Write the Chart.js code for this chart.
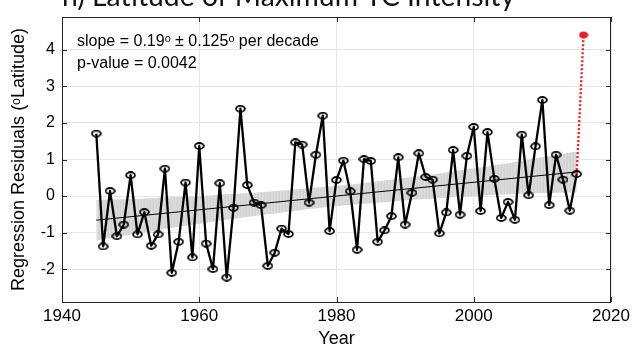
<!DOCTYPE html>
<html>
<head>
<meta charset="utf-8">
<script src="https://cdn.jsdelivr.net/npm/chart.js@4.4.1/dist/chart.umd.min.js"></script>
<style>
  html, body { margin: 0; padding: 0; background: #ffffff; }
  #wrap { position: relative; width: 640px; height: 348px; }
</style>
</head>
<body>
<div id="wrap"><canvas id="c" width="640" height="348"></canvas></div>
<script>
// ---------- data ----------
const years = [1945,1946,1947,1948,1949,1950,1951,1952,1953,1954,1955,1956,1957,1958,1959,
  1960,1961,1962,1963,1964,1965,1966,1967,1968,1969,1970,1971,1972,1973,1974,1975,1976,1977,
  1978,1979,1980,1981,1982,1983,1984,1985,1986,1987,1988,1989,1990,1991,1992,1993,1994,1995,
  1996,1997,1998,1999,2000,2001,2002,2003,2004,2005,2006,2007,2008,2009,2010,2011,2012,2013,
  2014,2015];
const residuals = [1.71,-1.38,0.14,-1.10,-0.78,0.57,-1.05,-0.44,-1.36,-1.05,0.75,-2.10,-1.25,0.37,-1.68,
  1.37,-1.30,-2.00,0.35,-2.23,-0.32,2.39,0.30,-0.18,-0.25,-1.91,-1.55,-0.89,-1.04,1.47,1.41,-0.18,1.13,
  2.20,-0.96,0.44,0.97,0.13,-1.47,1.01,0.96,-1.25,-0.94,-0.55,1.06,-0.78,0.09,1.17,0.52,0.45,-1.02,
  -0.45,1.26,-0.51,1.10,1.89,-0.41,1.75,0.47,-0.60,-0.16,-0.65,1.68,0.02,1.36,2.63,-0.25,1.13,0.45,
  -0.40,0.60];
const recentYears = [2015, 2016];
const recentValues = [0.60, 4.41];
const trendYears = [1945, 2015];
const trendValues = [-0.66, 0.66];
const bandYears = [1945,1950,1955,1960,1965,1970,1975,1980,1985,1990,1995,2000,2005,2010,2015];
const bandUpper = [-0.10,-0.08,-0.04,0.00,0.06,0.12,0.20,0.28,0.38,0.50,0.62,0.76,0.90,1.06,1.22];
const bandLower = [-1.22,-1.06,-0.90,-0.76,-0.62,-0.50,-0.38,-0.28,-0.20,-0.12,-0.06,0.00,0.04,0.08,0.10];
const xTicks = [1940, 1960, 1980, 2000, 2020];
const yTicks = [-2, -1, 0, 1, 2, 3, 4];
const titleText = 'h) Latitude of Maximum TC Intensity';
const yTitle = 'Regression Residuals (\u1D52Latitude)';
const xTitle = 'Year';
const noteLines = ['slope = 0.19\u1D52 \u00B1 0.125\u1D52 per decade', 'p-value = 0.0042'];

// ---------- helpers ----------
const pts = (xs, ys) => xs.map((x, i) => ({x: x, y: ys[i]}));
const FONT = '"Liberation Sans", Arial, Helvetica, sans-serif';

function ellipseMarker(stroke, fill) {
  const c = document.createElement('canvas');
  c.width = 11; c.height = 8;
  const g = c.getContext('2d');
  g.beginPath();
  g.ellipse(5.5, 4, 4.4, 3.0, 0, 0, Math.PI * 2);
  if (fill) { g.fillStyle = fill; g.fill(); }
  if (stroke) { g.lineWidth = 1.8; g.strokeStyle = stroke; g.stroke(); }
  return c;
}
const blackMarker = ellipseMarker('#000000', null);
const redMarker = (() => {
  const c = document.createElement('canvas');
  c.width = 10; c.height = 8;
  const g = c.getContext('2d');
  g.beginPath(); g.ellipse(5, 4, 4.6, 3.6, 0, 0, Math.PI * 2);
  g.fillStyle = '#ee1c24'; g.fill();
  return c;
})();

const bandPattern = (() => {
  const c = document.createElement('canvas');
  c.width = 3; c.height = 1;
  const g = c.getContext('2d');
  g.fillStyle = '#d2d2d2'; g.fillRect(0, 0, 1, 1);
  g.fillStyle = '#dcdcdc'; g.fillRect(1, 0, 1, 1);
  g.fillStyle = '#d7d7d7'; g.fillRect(2, 0, 1, 1);
  return document.getElementById('c').getContext('2d').createPattern(c, 'repeat');
})();

// frame, inward ticks, annotations, clipped title
const decor = {
  id: 'decor',
  afterDraw(chart) {
    const ctx = chart.ctx;
    const a = chart.chartArea;
    const xs = chart.scales.x, ys = chart.scales.y;
    ctx.save();
    ctx.strokeStyle = '#2a2a2a';
    ctx.lineWidth = 1;
    const L = 5;
    ctx.beginPath();
    yTicks.forEach(v => {
      const y = Math.round(ys.getPixelForValue(v)) + 0.5;
      ctx.moveTo(a.left, y); ctx.lineTo(a.left + L, y);
      ctx.moveTo(a.right, y); ctx.lineTo(a.right - L, y);
    });
    xTicks.forEach(v => {
      const x = Math.round(xs.getPixelForValue(v)) + 0.5;
      ctx.moveTo(x, a.bottom); ctx.lineTo(x, a.bottom - L);
      ctx.moveTo(x, a.top); ctx.lineTo(x, a.top + L);
    });
    ctx.stroke();
    ctx.strokeStyle = '#262626';
    ctx.strokeRect(Math.round(a.left) + 0.5, Math.round(a.top) + 0.5,
                   Math.round(a.right - a.left) - 1, Math.round(a.bottom - a.top));
    ctx.fillStyle = '#000000';
    ctx.textBaseline = 'alphabetic';
    ctx.textAlign = 'left';
    ctx.font = '16px ' + FONT;
    ctx.fillText(noteLines[0], 77, 46);
    ctx.fillText(noteLines[1], 77, 68);
    ctx.font = '27px Lato, "Open Sans", sans-serif';
    const w = ctx.measureText(titleText).width;
    const size = 27 * 453 / w;
    ctx.font = size.toFixed(1) + 'px Lato, "Open Sans", sans-serif';
    ctx.fillStyle = '#111111';
    ctx.fillText(titleText, 62, 6);
    ctx.restore();
  }
};

new Chart(document.getElementById('c'), {
  type: 'line',
  data: {
    datasets: [
      {
        data: pts(years, residuals),
        borderColor: '#000000',
        borderWidth: 2.3,
        borderJoinStyle: 'round',
        tension: 0,
        pointStyle: blackMarker,
        pointRadius: 5,
        fill: false
      },
      {
        data: pts(recentYears, recentValues),
        borderColor: '#ee1c24',
        borderWidth: 2.4,
        borderDash: [2, 2],
        tension: 0,
        pointStyle: [false, redMarker],
        pointRadius: [0, 5],
        fill: false
      },
      {
        data: pts(trendYears, trendValues),
        borderColor: '#000000',
        borderWidth: 1,
        pointRadius: 0,
        fill: false
      },
      {
        data: pts(bandYears, bandUpper),
        borderWidth: 0,
        borderColor: 'rgba(0,0,0,0)',
        backgroundColor: bandPattern,
        pointRadius: 0,
        tension: 0.4,
        fill: '+1'
      },
      {
        data: pts(bandYears, bandLower),
        borderWidth: 0,
        borderColor: 'rgba(0,0,0,0)',
        pointRadius: 0,
        tension: 0.4,
        fill: false
      }
    ]
  },
  options: {
    responsive: false,
    animation: false,
    events: [],
    layout: { padding: { left: 0, right: 29, top: 17, bottom: 0 } },
    plugins: { legend: { display: false }, tooltip: { enabled: false }, title: { display: false } },
    scales: {
      x: {
        type: 'linear',
        min: 1940, max: 2020,
        afterBuildTicks: s => { s.ticks = xTicks.map(v => ({value: v})); },
        afterFit: s => { s.height = 46; },
        grid: { color: '#e6e6e6', lineWidth: 1, drawTicks: false },
        border: { display: false },
        ticks: { color: '#000000', padding: 4, maxRotation: 0, font: { family: FONT, size: 17 },
                 callback: v => String(v) },
        title: { display: true, text: xTitle, color: '#000000', padding: { top: 0, bottom: -2 },
                 font: { family: FONT, size: 18 } }
      },
      y: {
        min: -2.9, max: 4.9,
        afterBuildTicks: s => { s.ticks = yTicks.map(v => ({value: v})); },
        afterFit: s => { s.width = 62; },
        grid: { color: '#e6e6e6', lineWidth: 1, drawTicks: false },
        border: { display: false },
        ticks: { color: '#000000', padding: 7, font: { family: FONT, size: 16 },
                 callback: v => String(v) },
        title: { display: true, text: yTitle, color: '#000000', padding: { top: 8, bottom: 0 },
                 font: { family: FONT, size: 18 } }
      }
    }
  },
  plugins: [decor]
});
</script>
</body>
</html>
